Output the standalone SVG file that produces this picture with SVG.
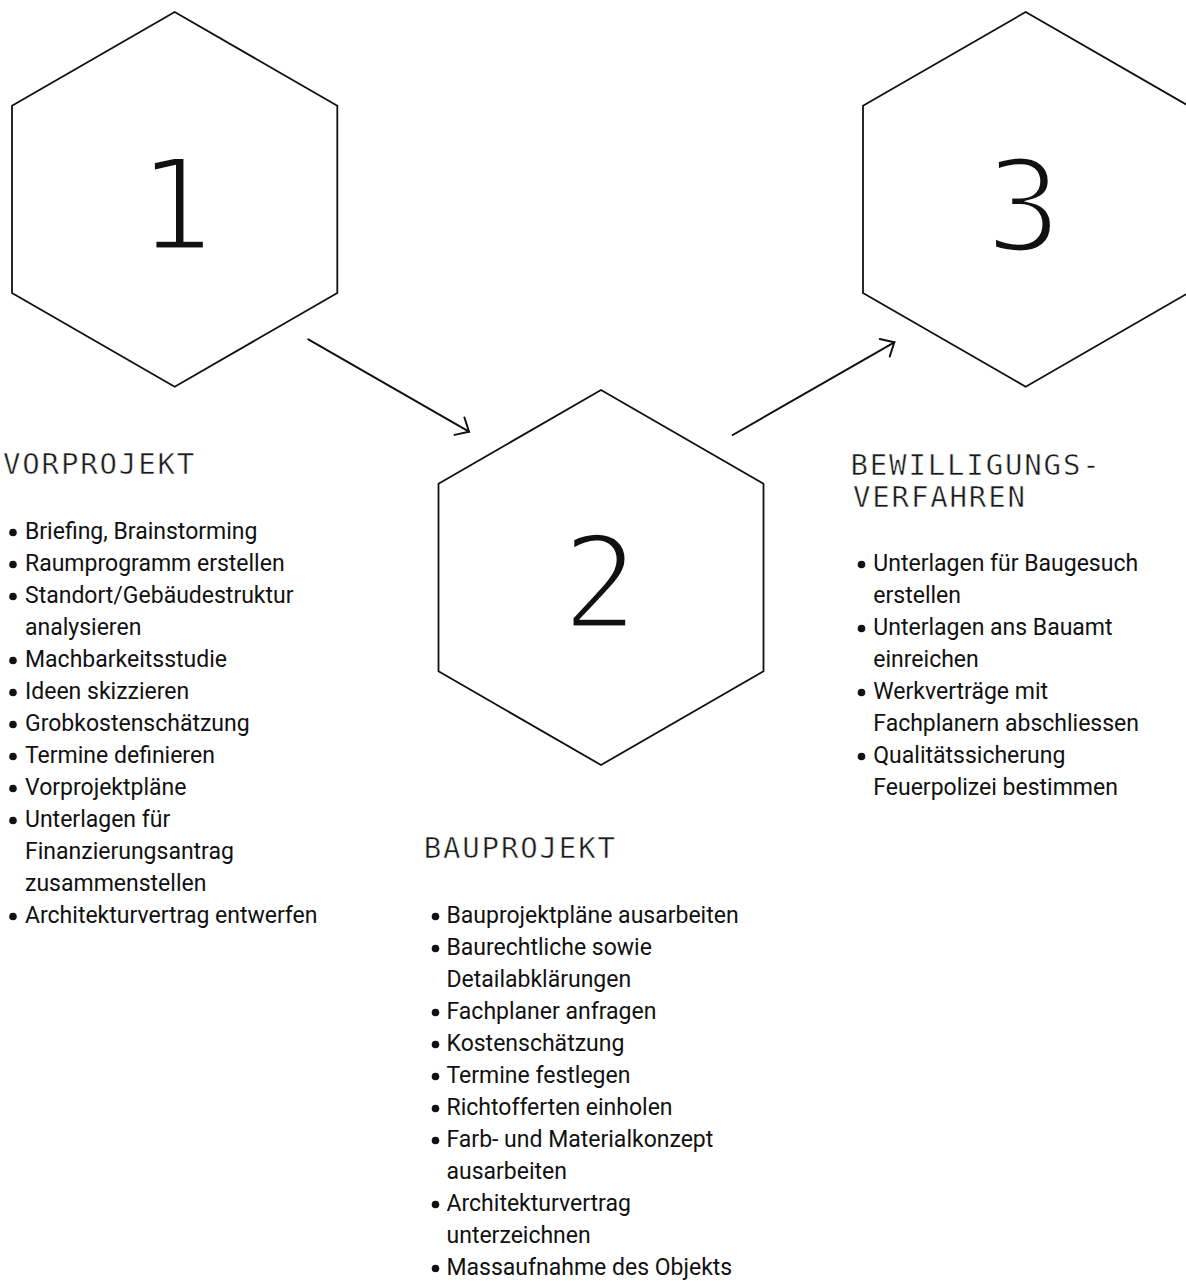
<svg xmlns="http://www.w3.org/2000/svg" width="1186" height="1281" viewBox="0 0 1186 1281">
  <defs>
    <marker id="chev" markerUnits="userSpaceOnUse" markerWidth="30" markerHeight="30" viewBox="-15 -15 30 30" refX="0" refY="0" orient="auto">
      <path d="M-11,-10 L0,0 L-11,10" fill="none" stroke="#111" stroke-width="2" stroke-linecap="round" stroke-linejoin="miter"/>
    </marker>
    <style>
      .hex { fill: #fff; stroke: #111; stroke-width: 1.8; stroke-linejoin: miter; }
      .num { font-family: "DejaVu Sans Mono", monospace; font-size: 128px; fill: #111; stroke: #fff; stroke-width: 5; text-anchor: middle; }
      .head { font-family: "DejaVu Sans Mono", monospace; font-size: 29px; letter-spacing: 1.85px; fill: #1a1a1a; stroke: #fff; stroke-width: 0.5; }
      .item { font-family: Roboto, "Liberation Sans", sans-serif; font-size: 23px; fill: #111; }
      .dot { fill: #111; }
      .conn { fill: none; stroke: #111; stroke-width: 2; stroke-linecap: round; }
    </style>
  </defs>
  <rect width="1186" height="1281" fill="#fff"/>

  <g id="connectors">
    <line class="conn" x1="308.3" y1="339.3" x2="469" y2="431.7" marker-end="url(#chev)"/>
    <line class="conn" x1="732.7" y1="435" x2="894.3" y2="342.3" marker-end="url(#chev)"/>
  </g>

  <g id="phase1">
    <polygon class="hex" points="174.7,12 337.3,105.7 337.3,293 174.7,386.7 12,293 12,105.7"/>
    <text class="num" x="175.5" y="250">1</text>
    <text class="head" x="3" y="474">VORPROJEKT</text>
    <g class="dots">
      <circle class="dot" cx="13" cy="532.5" r="3.8"/>
      <circle class="dot" cx="13" cy="564.5" r="3.8"/>
      <circle class="dot" cx="13" cy="596.5" r="3.8"/>
      <circle class="dot" cx="13" cy="660.5" r="3.8"/>
      <circle class="dot" cx="13" cy="692.5" r="3.8"/>
      <circle class="dot" cx="13" cy="724.5" r="3.8"/>
      <circle class="dot" cx="13" cy="756.5" r="3.8"/>
      <circle class="dot" cx="13" cy="788.5" r="3.8"/>
      <circle class="dot" cx="13" cy="820.5" r="3.8"/>
      <circle class="dot" cx="13" cy="916.5" r="3.8"/>
    </g>
    <text class="item">
      <tspan x="25" y="539">Briefing, Brainstorming</tspan>
      <tspan x="25" y="571">Raumprogramm erstellen</tspan>
      <tspan x="25" y="603">Standort/Gebäudestruktur</tspan>
      <tspan x="25" y="635">analysieren</tspan>
      <tspan x="25" y="667">Machbarkeitsstudie</tspan>
      <tspan x="25" y="699">Ideen skizzieren</tspan>
      <tspan x="25" y="731">Grobkostenschätzung</tspan>
      <tspan x="25" y="763">Termine definieren</tspan>
      <tspan x="25" y="795">Vorprojektpläne</tspan>
      <tspan x="25" y="827">Unterlagen für</tspan>
      <tspan x="25" y="859">Finanzierungsantrag</tspan>
      <tspan x="25" y="891">zusammenstellen</tspan>
      <tspan x="25" y="923">Architekturvertrag entwerfen</tspan>
    </text>
  </g>

  <g id="phase2">
    <polygon class="hex" points="601,390 763.5,483.7 763.5,671.3 601,765 438.5,671.3 438.5,483.7"/>
    <text class="num" x="600" y="628">2</text>
    <text class="head" x="423.7" y="858">BAUPROJEKT</text>
    <g class="dots">
      <circle class="dot" cx="435.5" cy="916.5" r="3.8"/>
      <circle class="dot" cx="435.5" cy="948.5" r="3.8"/>
      <circle class="dot" cx="435.5" cy="1012.5" r="3.8"/>
      <circle class="dot" cx="435.5" cy="1044.5" r="3.8"/>
      <circle class="dot" cx="435.5" cy="1076.5" r="3.8"/>
      <circle class="dot" cx="435.5" cy="1108.5" r="3.8"/>
      <circle class="dot" cx="435.5" cy="1140.5" r="3.8"/>
      <circle class="dot" cx="435.5" cy="1204.5" r="3.8"/>
      <circle class="dot" cx="435.5" cy="1268.5" r="3.8"/>
    </g>
    <text class="item">
      <tspan x="446.5" y="923">Bauprojektpläne ausarbeiten</tspan>
      <tspan x="446.5" y="955">Baurechtliche sowie</tspan>
      <tspan x="446.5" y="987">Detailabklärungen</tspan>
      <tspan x="446.5" y="1019">Fachplaner anfragen</tspan>
      <tspan x="446.5" y="1051">Kostenschätzung</tspan>
      <tspan x="446.5" y="1083">Termine festlegen</tspan>
      <tspan x="446.5" y="1115">Richtofferten einholen</tspan>
      <tspan x="446.5" y="1147">Farb- und Materialkonzept</tspan>
      <tspan x="446.5" y="1179">ausarbeiten</tspan>
      <tspan x="446.5" y="1211">Architekturvertrag</tspan>
      <tspan x="446.5" y="1243">unterzeichnen</tspan>
      <tspan x="446.5" y="1275">Massaufnahme des Objekts</tspan>
    </text>
  </g>

  <g id="phase3">
    <polygon class="hex" points="1025.7,12 1188.3,105.7 1188.3,293 1025.7,386.7 863,293 863,105.7"/>
    <text class="num" x="1023.5" y="250.5">3</text>
    <text class="head">
      <tspan x="850.5" y="475">BEWILLIGUNGS-</tspan>
      <tspan x="853" y="506.5">VERFAHREN</tspan>
    </text>
    <g class="dots">
      <circle class="dot" cx="861.5" cy="564.5" r="3.8"/>
      <circle class="dot" cx="861.5" cy="628.5" r="3.8"/>
      <circle class="dot" cx="861.5" cy="692.5" r="3.8"/>
      <circle class="dot" cx="861.5" cy="756.5" r="3.8"/>
    </g>
    <text class="item">
      <tspan x="873.3" y="571">Unterlagen für Baugesuch</tspan>
      <tspan x="873.3" y="603">erstellen</tspan>
      <tspan x="873.3" y="635">Unterlagen ans Bauamt</tspan>
      <tspan x="873.3" y="667">einreichen</tspan>
      <tspan x="873.3" y="699">Werkverträge mit</tspan>
      <tspan x="873.3" y="731">Fachplanern abschliessen</tspan>
      <tspan x="873.3" y="763">Qualitätssicherung</tspan>
      <tspan x="873.3" y="795">Feuerpolizei bestimmen</tspan>
    </text>
  </g>
</svg>
